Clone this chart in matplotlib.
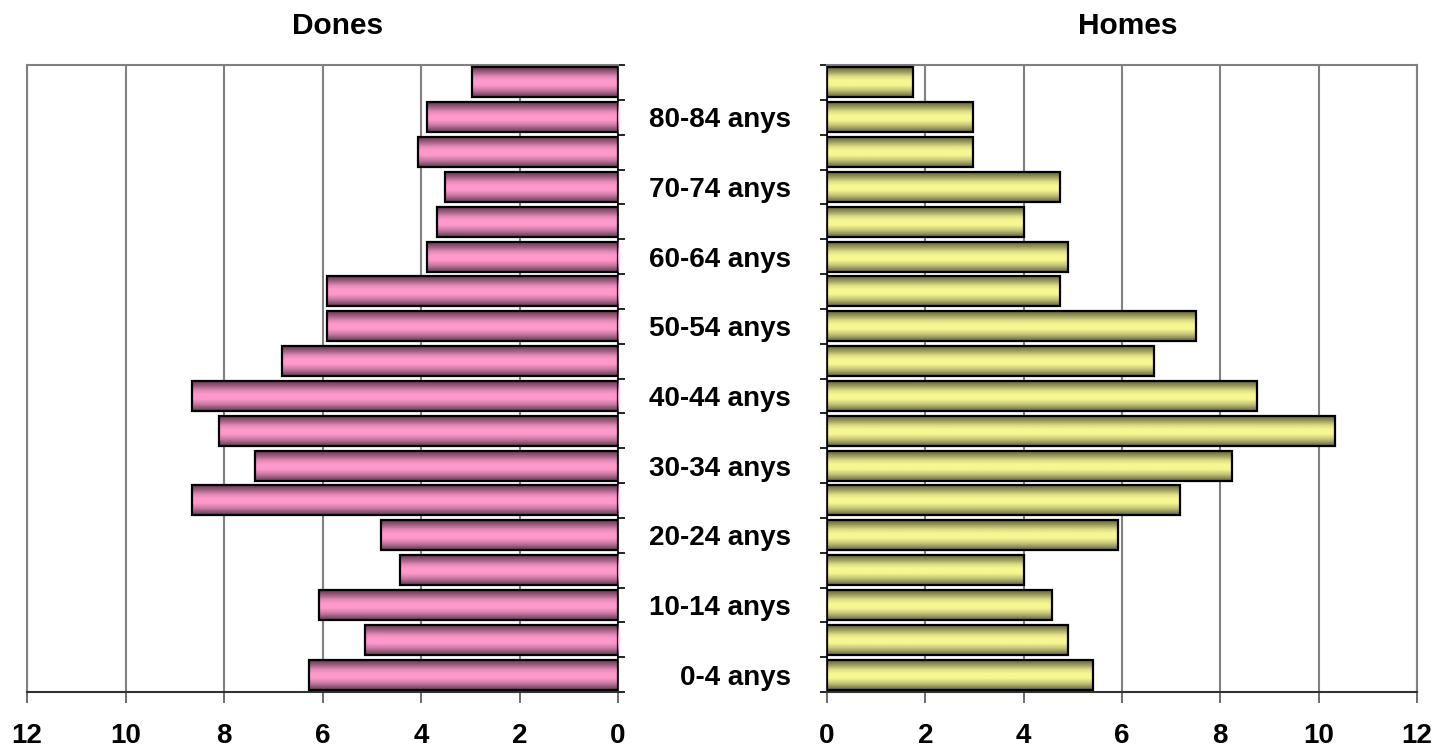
import numpy as np
import matplotlib
matplotlib.use("Agg")
import matplotlib.pyplot as plt
from matplotlib.colors import LinearSegmentedColormap

plt.rcParams["font.family"] = ["Liberation Sans", "DejaVu Sans"]
plt.rcParams["font.weight"] = "bold"

# age groups, bottom to top
AGES = ["0-4 anys", "5-9 anys", "10-14 anys", "15-19 anys", "20-24 anys",
        "25-29 anys", "30-34 anys", "35-39 anys", "40-44 anys", "45-49 anys",
        "50-54 anys", "55-59 anys", "60-64 anys", "65-69 anys", "70-74 anys",
        "75-79 anys", "80-84 anys", "85 i més anys"]
DONES = [6.27, 5.14, 6.07, 4.43, 4.81, 8.65, 7.37, 8.10, 8.65, 6.82,
         5.91, 5.91, 3.88, 3.67, 3.51, 4.06, 3.88, 2.96]
HOMES = [5.41, 4.90, 4.58, 4.01, 5.92, 7.18, 8.24, 10.33, 8.75, 6.65,
         7.50, 4.74, 4.90, 4.01, 4.74, 2.97, 2.97, 1.75]
XTICKS = [0, 2, 4, 6, 8, 10, 12]

PINK = LinearSegmentedColormap.from_list("pink", [
    (0.0, "#653a53"), (0.15, "#9c5d7e"), (0.32, "#e58bb9"), (0.45, "#ff99cc"),
    (0.6, "#ff99cc"), (0.78, "#c978a2"), (1.0, "#653a53")])
YELLOW = LinearSegmentedColormap.from_list("yellow", [
    (0.0, "#66663f"), (0.15, "#9a9a5e"), (0.32, "#e0e088"), (0.45, "#f7f792"),
    (0.6, "#f7f792"), (0.78, "#c4c476"), (1.0, "#66663f")])

BAR_H = 0.86
# image rows go from bottom (row 0) to top with origin="lower"
GRAD = np.linspace(1, 0, 64).reshape(-1, 1)


def gradient_bars(ax, values, cmap):
    y = np.arange(len(values))
    bars = ax.barh(y, values, height=BAR_H, color="none", edgecolor="black",
                   linewidth=1.6, zorder=4)
    for b in bars:
        x0, y0 = b.get_x(), b.get_y()
        im = ax.imshow(GRAD, extent=[x0, x0 + b.get_width(), y0, y0 + b.get_height()],
                       origin="lower", aspect="auto", cmap=cmap, zorder=3,
                       interpolation="bilinear")
        im.set_clip_path(b)


def style(ax, side):
    n = len(AGES)
    ax.set_xlim(0, 12)
    ax.set_ylim(-0.5, n - 0.5)
    ax.set_xticks(XTICKS)
    ax.set_xticklabels([str(t) for t in XTICKS], fontsize=20, fontweight="bold")
    ax.tick_params(axis="x", length=8, width=1.2, color="#555555", pad=14)
    ax.grid(axis="x", color="#808080", linewidth=1.5, zorder=0)
    ax.set_axisbelow(True)
    ax.set_yticks(np.arange(-0.5, n, 1.0), minor=True)
    ax.set_yticks(np.arange(0, n, 2))
    ax.tick_params(axis="y", which="minor", length=5, width=1.2, color="black")
    ax.tick_params(axis="y", which="major", length=0)
    for s in ("top", "left", "right"):
        ax.spines[s].set_color("#808080")
        ax.spines[s].set_linewidth(1.5)
    ax.spines["bottom"].set_color("#333333")
    ax.spines["bottom"].set_linewidth(1.5)
    ax.spines[side].set_color("black")
    ax.spines[side].set_linewidth(1.2)


fig = plt.figure(figsize=(14.34, 7.49), dpi=100)

ax_l = fig.add_axes([27 / 1434, 57 / 749, 591 / 1434, 627 / 749])
gradient_bars(ax_l, DONES, PINK)
style(ax_l, "right")
ax_l.invert_xaxis()
ax_l.yaxis.tick_right()
ax_l.set_yticklabels([])
ax_l.tick_params(axis="y", which="minor", right=True, left=False)

ax_r = fig.add_axes([827 / 1434, 57 / 749, 590 / 1434, 627 / 749])
gradient_bars(ax_r, HOMES, YELLOW)
style(ax_r, "left")
ax_r.set_yticklabels(AGES[::2], fontsize=20, fontweight="bold")
ax_r.tick_params(axis="y", which="major", pad=26)

fig.text(338 / 1434, 1 - 26 / 749, "Dones", ha="center", va="center",
         fontsize=21.5, fontweight="bold")
fig.text(1128 / 1434, 1 - 26 / 749, "Homes", ha="center", va="center",
         fontsize=21.5, fontweight="bold")

fig.savefig("out.png", dpi=100)
